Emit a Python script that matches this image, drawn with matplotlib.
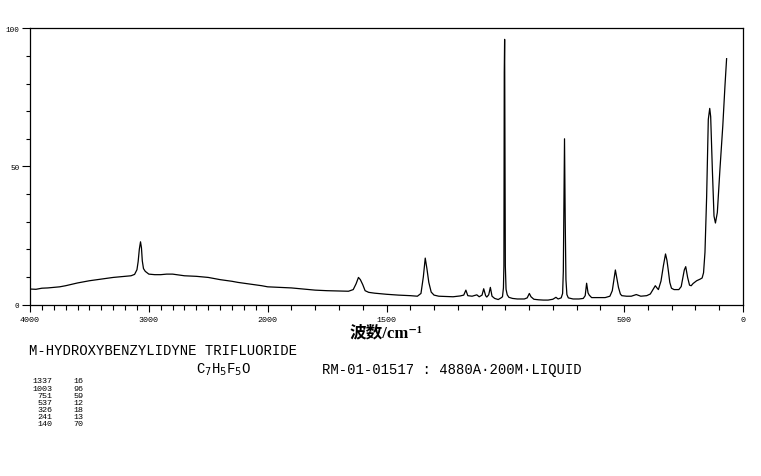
import numpy as np
import matplotlib
matplotlib.use("Agg")
import matplotlib.pyplot as plt
from matplotlib.ticker import FixedLocator

# spectrum: wavenumber (cm-1) and intensity
wavenumber = [4000, 3950, 3900, 3850, 3800, 3750, 3700, 3650, 3600, 3550,
              3500, 3450, 3400, 3350, 3300, 3250, 3200, 3150, 3120, 3100,
              3090, 3080, 3070, 3062, 3055, 3045, 3030, 3000, 2950, 2900,
              2850, 2800, 2750, 2700, 2650, 2600, 2550, 2500, 2450, 2400,
              2350, 2300, 2250, 2200, 2150, 2100, 2050, 2000, 1950, 1900,
              1850, 1800, 1750, 1700, 1660, 1640, 1628, 1618, 1610, 1600,
              1590, 1575, 1550, 1500, 1450, 1400, 1370, 1355, 1345, 1337,
              1330, 1322, 1312, 1300, 1280, 1250, 1220, 1190, 1175, 1166,
              1158, 1140, 1120, 1110, 1098, 1091, 1083, 1078, 1070, 1063,
              1056, 1045, 1030, 1018, 1012, 1008, 1006, 1004.5, 1003, 1001.5,
              1000, 997, 992, 985, 970, 950, 920, 908, 899, 892,
              880, 860, 840, 820, 800, 787, 778, 765, 759, 756,
              754, 751, 748, 745, 741, 735, 715, 690, 672, 664,
              658, 652, 647, 637, 610, 580, 560, 550, 544, 537,
              530, 524, 516, 510, 490, 470, 449, 430, 405, 390,
              378, 369, 362, 356, 345, 335, 326, 320, 315, 308,
              301, 290, 270, 260, 254, 247, 241, 233, 225, 218,
              210, 195, 180, 172, 166, 160, 153, 146, 140, 136,
              129, 122, 116, 108, 97, 85, 76, 69]
intensity = [5.6, 5.5, 5.9, 6.0, 6.2, 6.4, 6.8, 7.3, 7.8, 8.2,
             8.6, 8.9, 9.2, 9.5, 9.8, 10.0, 10.2, 10.4, 10.9, 12.6,
             15.5, 20.0, 22.7, 20.5, 15.8, 13.0, 12.0, 11.0, 10.8, 10.8,
             11.0, 11.0, 10.7, 10.4, 10.3, 10.2, 10.0, 9.8, 9.4, 9.0,
             8.7, 8.4, 8.0, 7.7, 7.4, 7.1, 6.8, 6.4, 6.2, 6.0,
             5.6, 5.2, 5.0, 4.9, 4.8, 5.4, 7.5, 9.8, 9.0, 7.2,
             5.0, 4.4, 4.1, 3.7, 3.4, 3.2, 3.0, 4.0, 10.0, 16.8,
             13.0, 8.0, 4.5, 3.4, 3.0, 2.9, 2.8, 3.1, 3.4, 5.2,
             3.2, 3.0, 3.5, 2.8, 3.4, 5.7, 3.2, 2.7, 3.5, 6.2,
             3.0, 2.2, 1.8, 2.4, 2.8, 6.0, 14.0, 84.0, 96.0, 49.0,
             14.0, 5.5, 3.5, 2.6, 2.2, 2.0, 2.0, 2.4, 4.0, 2.8,
             1.9, 1.7, 1.6, 1.6, 1.9, 2.6, 2.0, 2.4, 4.0, 12.0,
             31.0, 60.0, 30.0, 9.0, 3.6, 2.4, 2.0, 2.0, 2.2, 3.2,
             7.7, 4.2, 3.4, 2.5, 2.5, 2.5, 3.0, 5.0, 8.5, 12.5,
             9.0, 6.2, 3.8, 3.2, 3.0, 3.0, 3.6, 3.0, 3.2, 3.8,
             5.5, 6.8, 6.0, 5.4, 8.5, 14.0, 18.3, 16.0, 12.8, 8.0,
             5.9, 5.4, 5.4, 6.5, 9.2, 12.5, 13.7, 9.8, 7.0, 6.8,
             7.6, 8.6, 9.2, 9.6, 11.5, 18.9, 39.0, 67.0, 71.0, 68.0,
             49.0, 32.0, 29.5, 33.3, 49.0, 64.7, 79.0, 89.0]

x_major = [4000, 3000, 2000, 1500, 500, 0]
x_labels = ["4000", "3000", "2000", "1500", "500", "0"]
y_major = [0, 50, 100]

title = "M-HYDROXYBENZYLIDYNE TRIFLUORIDE"
formula = "C$_7$H$_5$F$_5$O"
sample_info = "RM-01-01517 : 4880A·200M·LIQUID"
peak_wn = [1337, 1003, 751, 537, 326, 241, 140]
peak_int = [16, 96, 59, 12, 18, 13, 70]


# the axis is compressed by 2 above 2000 cm-1
def fwd(x):
    x = np.asarray(x, dtype=float)
    return np.where(x <= 2000, x, 2000 + (x - 2000) / 2)


def inv(t):
    t = np.asarray(t, dtype=float)
    return np.where(t <= 2000, t, 2000 + (t - 2000) * 2)


fig = plt.figure(figsize=(7.61, 4.77), dpi=100)
ax = fig.add_axes([30 / 761, 171.5 / 477, 713 / 761, 276.2 / 477])

ax.plot(wavenumber, intensity, color="black", lw=0.9)

ax.set_xscale("function", functions=(fwd, inv))
ax.set_xlim(4000, 0)
ax.set_ylim(0, 100)

ax.xaxis.set_major_locator(FixedLocator(x_major))
ax.set_xticklabels(x_labels)
ax.xaxis.set_minor_locator(FixedLocator([v for v in range(0, 4001, 100) if v not in x_major]))
ax.set_yticks(y_major)
ax.set_yticklabels([str(v) for v in y_major])
ax.yaxis.set_minor_locator(FixedLocator(range(0, 101, 10)))

ax.tick_params(axis="x", which="major", direction="out", length=5, width=0.8, pad=3,
               labelsize=6, labelfontfamily="Liberation Mono")
ax.tick_params(axis="x", which="minor", direction="out", length=3.5, width=0.8)
ax.tick_params(axis="y", which="major", direction="out", length=6, width=0.8, pad=1.5,
               labelsize=5.5, labelfontfamily="Liberation Mono")
ax.tick_params(axis="y", which="minor", direction="out", length=3, width=0.8)
for s in ax.spines.values():
    s.set_linewidth(0.9)

ax.set_xlabel("波数/cm⁻¹", fontsize=12, fontweight="bold",
              family=["Liberation Serif", "Noto Sans CJK SC", "DejaVu Serif"], labelpad=1)

# header text below the plot
fig.text(29 / 761, 1 - 355 / 477, title, family="Liberation Mono", fontsize=10)
fig.text(196 / 761, 1 - 374 / 477, formula, family="Liberation Mono", fontsize=10)
fig.text(322 / 761, 1 - 374 / 477, sample_info, family="Liberation Mono", fontsize=10)

# peak table
for i, (w, v) in enumerate(zip(peak_wn, peak_int)):
    yy = 1 - (382 + 7.1 * i) / 477
    fig.text(52.5 / 761, yy, str(w), family="Liberation Mono", fontsize=6,
             ha="right", va="center")
    fig.text(83.5 / 761, yy, str(v), family="Liberation Mono", fontsize=6,
             ha="right", va="center")

fig.savefig("out.png", dpi=100)
